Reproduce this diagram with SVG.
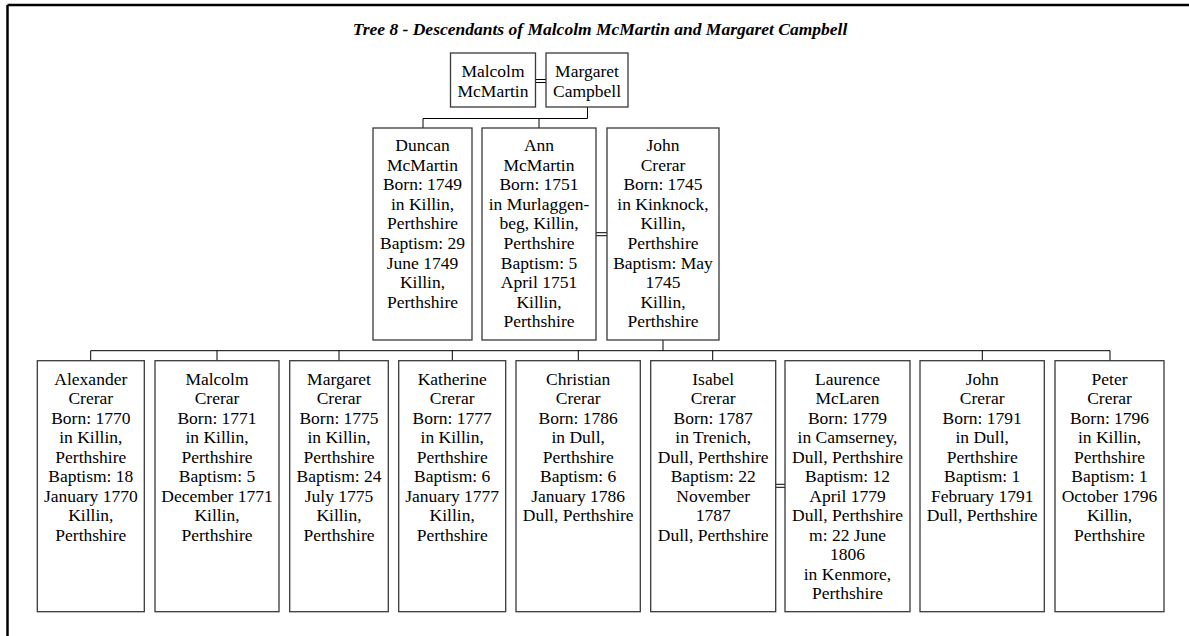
<svg xmlns="http://www.w3.org/2000/svg" width="1189" height="636" viewBox="0 0 1189 636">
<style>
  .frame { stroke: #000; stroke-width: 2.5; fill: none; }
  .box { fill: #fff; stroke: #3a3a3a; stroke-width: 1.3; }
  .conn { stroke: #000; stroke-width: 1; fill: none; }
  .t { font-family: "Liberation Serif", "Times New Roman", serif; font-size: 17.5px; fill: #000; text-anchor: middle; }
  .title { font-family: "Liberation Serif", "Times New Roman", serif; font-size: 17.5px; font-weight: bold; font-style: italic; fill: #000; text-anchor: middle; }
</style>
<rect x="0" y="0" width="1189" height="636" fill="#fff"/>
<g id="frame">
  <line class="frame" x1="7.5" y1="5" x2="1189" y2="5"/>
  <line class="frame" x1="7.5" y1="5" x2="7.5" y2="636"/>
</g>
<text id="title" class="title" x="600" y="34.5">Tree 8 - Descendants of Malcolm McMartin and Margaret Campbell</text>

<g id="connectors">
  <!-- couple -->
  <line class="conn" x1="536" y1="79.5" x2="546" y2="79.5"/>
  <line class="conn" x1="536" y1="82.5" x2="546" y2="82.5"/>
  <polyline class="conn" points="587.5,107 587.5,118.5 423,118.5 423,128"/>
  <line class="conn" x1="539" y1="118.5" x2="539" y2="128"/>
  <!-- Ann = John -->
  <line class="conn" x1="596" y1="232.7" x2="607" y2="232.7"/>
  <line class="conn" x1="596" y1="235.7" x2="607" y2="235.7"/>
  <!-- John's children -->
  <line class="conn" x1="663" y1="340" x2="663" y2="350.7"/>
  <line class="conn" x1="90.7" y1="350.7" x2="1110" y2="350.7"/>
  <line class="conn" x1="90.7" y1="350.7" x2="90.7" y2="360.7"/>
  <line class="conn" x1="217" y1="350.7" x2="217" y2="360.7"/>
  <line class="conn" x1="339" y1="350.7" x2="339" y2="360.7"/>
  <line class="conn" x1="452.3" y1="350.7" x2="452.3" y2="360.7"/>
  <line class="conn" x1="578.3" y1="350.7" x2="578.3" y2="360.7"/>
  <line class="conn" x1="712.7" y1="350.7" x2="712.7" y2="360.7"/>
  <line class="conn" x1="982.3" y1="350.7" x2="982.3" y2="360.7"/>
  <line class="conn" x1="1110" y1="350.7" x2="1110" y2="360.7"/>
  <!-- Isabel = Laurence -->
  <line class="conn" x1="776" y1="484.3" x2="785" y2="484.3"/>
  <line class="conn" x1="776" y1="487.3" x2="785" y2="487.3"/>
</g>

<g id="malcolm-mcmartin">
  <rect class="box" x="450.5" y="53" width="85" height="54"/>
  <text class="t" x="493" y="77"><tspan x="493">Malcolm</tspan><tspan x="493" dy="19.6">McMartin</tspan></text>
</g>
<g id="margaret-campbell">
  <rect class="box" x="546" y="53" width="82" height="54"/>
  <text class="t" x="587" y="77"><tspan x="587">Margaret</tspan><tspan x="587" dy="19.6">Campbell</tspan></text>
</g>

<g id="duncan-mcmartin">
  <rect class="box" x="373" y="128" width="99" height="212"/>
  <text class="t" y="151"><tspan x="422.5">Duncan</tspan><tspan x="422.5" dy="19.6">McMartin</tspan><tspan x="422.5" dy="19.6">Born: 1749</tspan><tspan x="422.5" dy="19.6">in Killin,</tspan><tspan x="422.5" dy="19.6">Perthshire</tspan><tspan x="422.5" dy="19.6">Baptism: 29</tspan><tspan x="422.5" dy="19.6">June 1749</tspan><tspan x="422.5" dy="19.6">Killin,</tspan><tspan x="422.5" dy="19.6">Perthshire</tspan></text>
</g>
<g id="ann-mcmartin">
  <rect class="box" x="482" y="128" width="114" height="212"/>
  <text class="t" y="151"><tspan x="539">Ann</tspan><tspan x="539" dy="19.6">McMartin</tspan><tspan x="539" dy="19.6">Born: 1751</tspan><tspan x="539" dy="19.6">in Murlaggen-</tspan><tspan x="539" dy="19.6">beg, Killin,</tspan><tspan x="539" dy="19.6">Perthshire</tspan><tspan x="539" dy="19.6">Baptism: 5</tspan><tspan x="539" dy="19.6">April 1751</tspan><tspan x="539" dy="19.6">Killin,</tspan><tspan x="539" dy="19.6">Perthshire</tspan></text>
</g>
<g id="john-crerar-1745">
  <rect class="box" x="607" y="128" width="112" height="212"/>
  <text class="t" y="151"><tspan x="663">John</tspan><tspan x="663" dy="19.6">Crerar</tspan><tspan x="663" dy="19.6">Born: 1745</tspan><tspan x="663" dy="19.6">in Kinknock,</tspan><tspan x="663" dy="19.6">Killin,</tspan><tspan x="663" dy="19.6">Perthshire</tspan><tspan x="663" dy="19.6">Baptism: May</tspan><tspan x="663" dy="19.6">1745</tspan><tspan x="663" dy="19.6">Killin,</tspan><tspan x="663" dy="19.6">Perthshire</tspan></text>
</g>

<g id="alexander-crerar">
  <rect class="box" x="37.3" y="360.7" width="107" height="251"/>
  <text class="t" y="384.5"><tspan x="90.8">Alexander</tspan><tspan x="90.8" dy="19.5">Crerar</tspan><tspan x="90.8" dy="19.5">Born: 1770</tspan><tspan x="90.8" dy="19.5">in Killin,</tspan><tspan x="90.8" dy="19.5">Perthshire</tspan><tspan x="90.8" dy="19.5">Baptism: 18</tspan><tspan x="90.8" dy="19.5">January 1770</tspan><tspan x="90.8" dy="19.5">Killin,</tspan><tspan x="90.8" dy="19.5">Perthshire</tspan></text>
</g>
<g id="malcolm-crerar">
  <rect class="box" x="155" y="360.7" width="124" height="251"/>
  <text class="t" y="384.5"><tspan x="217">Malcolm</tspan><tspan x="217" dy="19.5">Crerar</tspan><tspan x="217" dy="19.5">Born: 1771</tspan><tspan x="217" dy="19.5">in Killin,</tspan><tspan x="217" dy="19.5">Perthshire</tspan><tspan x="217" dy="19.5">Baptism: 5</tspan><tspan x="217" dy="19.5">December 1771</tspan><tspan x="217" dy="19.5">Killin,</tspan><tspan x="217" dy="19.5">Perthshire</tspan></text>
</g>
<g id="margaret-crerar">
  <rect class="box" x="289.7" y="360.7" width="98.6" height="251"/>
  <text class="t" y="384.5"><tspan x="339">Margaret</tspan><tspan x="339" dy="19.5">Crerar</tspan><tspan x="339" dy="19.5">Born: 1775</tspan><tspan x="339" dy="19.5">in Killin,</tspan><tspan x="339" dy="19.5">Perthshire</tspan><tspan x="339" dy="19.5">Baptism: 24</tspan><tspan x="339" dy="19.5">July 1775</tspan><tspan x="339" dy="19.5">Killin,</tspan><tspan x="339" dy="19.5">Perthshire</tspan></text>
</g>
<g id="katherine-crerar">
  <rect class="box" x="398.7" y="360.7" width="107" height="251"/>
  <text class="t" y="384.5"><tspan x="452.2">Katherine</tspan><tspan x="452.2" dy="19.5">Crerar</tspan><tspan x="452.2" dy="19.5">Born: 1777</tspan><tspan x="452.2" dy="19.5">in Killin,</tspan><tspan x="452.2" dy="19.5">Perthshire</tspan><tspan x="452.2" dy="19.5">Baptism: 6</tspan><tspan x="452.2" dy="19.5">January 1777</tspan><tspan x="452.2" dy="19.5">Killin,</tspan><tspan x="452.2" dy="19.5">Perthshire</tspan></text>
</g>
<g id="christian-crerar">
  <rect class="box" x="516" y="360.7" width="124.3" height="251"/>
  <text class="t" y="384.5"><tspan x="578.2">Christian</tspan><tspan x="578.2" dy="19.5">Crerar</tspan><tspan x="578.2" dy="19.5">Born: 1786</tspan><tspan x="578.2" dy="19.5">in Dull,</tspan><tspan x="578.2" dy="19.5">Perthshire</tspan><tspan x="578.2" dy="19.5">Baptism: 6</tspan><tspan x="578.2" dy="19.5">January 1786</tspan><tspan x="578.2" dy="19.5">Dull, Perthshire</tspan></text>
</g>
<g id="isabel-crerar">
  <rect class="box" x="650.7" y="360.7" width="125" height="251"/>
  <text class="t" y="384.5"><tspan x="713.2">Isabel</tspan><tspan x="713.2" dy="19.5">Crerar</tspan><tspan x="713.2" dy="19.5">Born: 1787</tspan><tspan x="713.2" dy="19.5">in Trenich,</tspan><tspan x="713.2" dy="19.5">Dull, Perthshire</tspan><tspan x="713.2" dy="19.5">Baptism: 22</tspan><tspan x="713.2" dy="19.5">November</tspan><tspan x="713.2" dy="19.5">1787</tspan><tspan x="713.2" dy="19.5">Dull, Perthshire</tspan></text>
</g>
<g id="laurence-mclaren">
  <rect class="box" x="785" y="360.7" width="125" height="251"/>
  <text class="t" y="384.5"><tspan x="847.5">Laurence</tspan><tspan x="847.5" dy="19.5">McLaren</tspan><tspan x="847.5" dy="19.5">Born: 1779</tspan><tspan x="847.5" dy="19.5">in Camserney,</tspan><tspan x="847.5" dy="19.5">Dull, Perthshire</tspan><tspan x="847.5" dy="19.5">Baptism: 12</tspan><tspan x="847.5" dy="19.5">April 1779</tspan><tspan x="847.5" dy="19.5">Dull, Perthshire</tspan><tspan x="847.5" dy="19.5">m: 22 June</tspan><tspan x="847.5" dy="19.5">1806</tspan><tspan x="847.5" dy="19.5">in Kenmore,</tspan><tspan x="847.5" dy="19.5">Perthshire</tspan></text>
</g>
<g id="john-crerar-1791">
  <rect class="box" x="920" y="360.7" width="124.3" height="251"/>
  <text class="t" y="384.5"><tspan x="982.2">John</tspan><tspan x="982.2" dy="19.5">Crerar</tspan><tspan x="982.2" dy="19.5">Born: 1791</tspan><tspan x="982.2" dy="19.5">in Dull,</tspan><tspan x="982.2" dy="19.5">Perthshire</tspan><tspan x="982.2" dy="19.5">Baptism: 1</tspan><tspan x="982.2" dy="19.5">February 1791</tspan><tspan x="982.2" dy="19.5">Dull, Perthshire</tspan></text>
</g>
<g id="peter-crerar">
  <rect class="box" x="1055" y="360.7" width="109" height="251"/>
  <text class="t" y="384.5"><tspan x="1109.5">Peter</tspan><tspan x="1109.5" dy="19.5">Crerar</tspan><tspan x="1109.5" dy="19.5">Born: 1796</tspan><tspan x="1109.5" dy="19.5">in Killin,</tspan><tspan x="1109.5" dy="19.5">Perthshire</tspan><tspan x="1109.5" dy="19.5">Baptism: 1</tspan><tspan x="1109.5" dy="19.5">October 1796</tspan><tspan x="1109.5" dy="19.5">Killin,</tspan><tspan x="1109.5" dy="19.5">Perthshire</tspan></text>
</g>
</svg>
